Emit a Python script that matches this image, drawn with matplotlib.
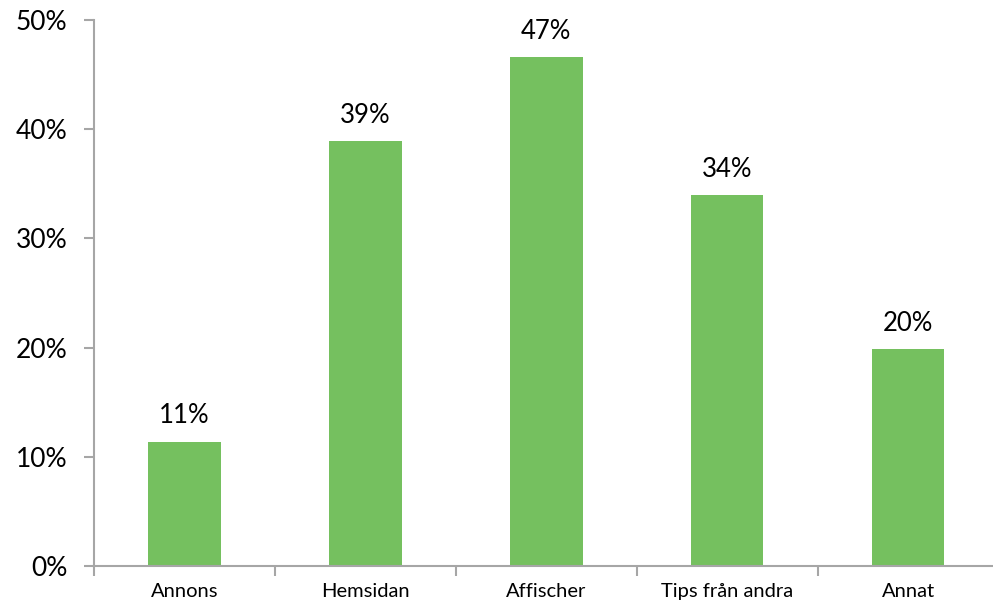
import matplotlib
matplotlib.use('Agg')
import matplotlib.pyplot as plt
import numpy as np

categories = ['Annons', 'Hemsidan', 'Affischer', 'Tips från andra', 'Annat']
values = [11.4, 38.9, 46.6, 34.0, 19.9]
labels = ['11%', '39%', '47%', '34%', '20%']

plt.rcParams['font.family'] = ['Lato', 'DejaVu Sans']

fig = plt.figure(figsize=(9.93, 6.08), dpi=100)
ax = fig.add_axes([0.0947, 0.069, 0.911, 0.898])

x = np.arange(len(categories))
ax.bar(x, values, width=0.4, color='#75C05F')

for xi, v, lab in zip(x, values, labels):
    ax.text(xi, v + 1.2, lab, ha='center', va='bottom', fontsize=18.5, color='black')

ax.set_xlim(-0.5, len(categories) - 0.5)
ax.set_ylim(0, 50)
ax.set_yticks(range(0, 51, 10))
ax.set_yticklabels([f'{t}%' for t in range(0, 51, 10)], fontsize=19)

ax.set_xticks(x)
ax.set_xticklabels(categories, fontsize=14.5)
ax.set_xticks(np.arange(-0.5, len(categories), 1), minor=True)
ax.tick_params(axis='x', which='major', length=0, pad=12)
ax.tick_params(axis='x', which='minor', length=7, width=1.5, color='#A6A6A6')
ax.tick_params(axis='y', length=7, width=1.5, color='#A6A6A6', pad=12)

for s in ['top', 'right']:
    ax.spines[s].set_visible(False)
for s in ['left', 'bottom']:
    ax.spines[s].set_color('#A6A6A6')
    ax.spines[s].set_linewidth(1.5)

fig.savefig('out.png', dpi=100)
